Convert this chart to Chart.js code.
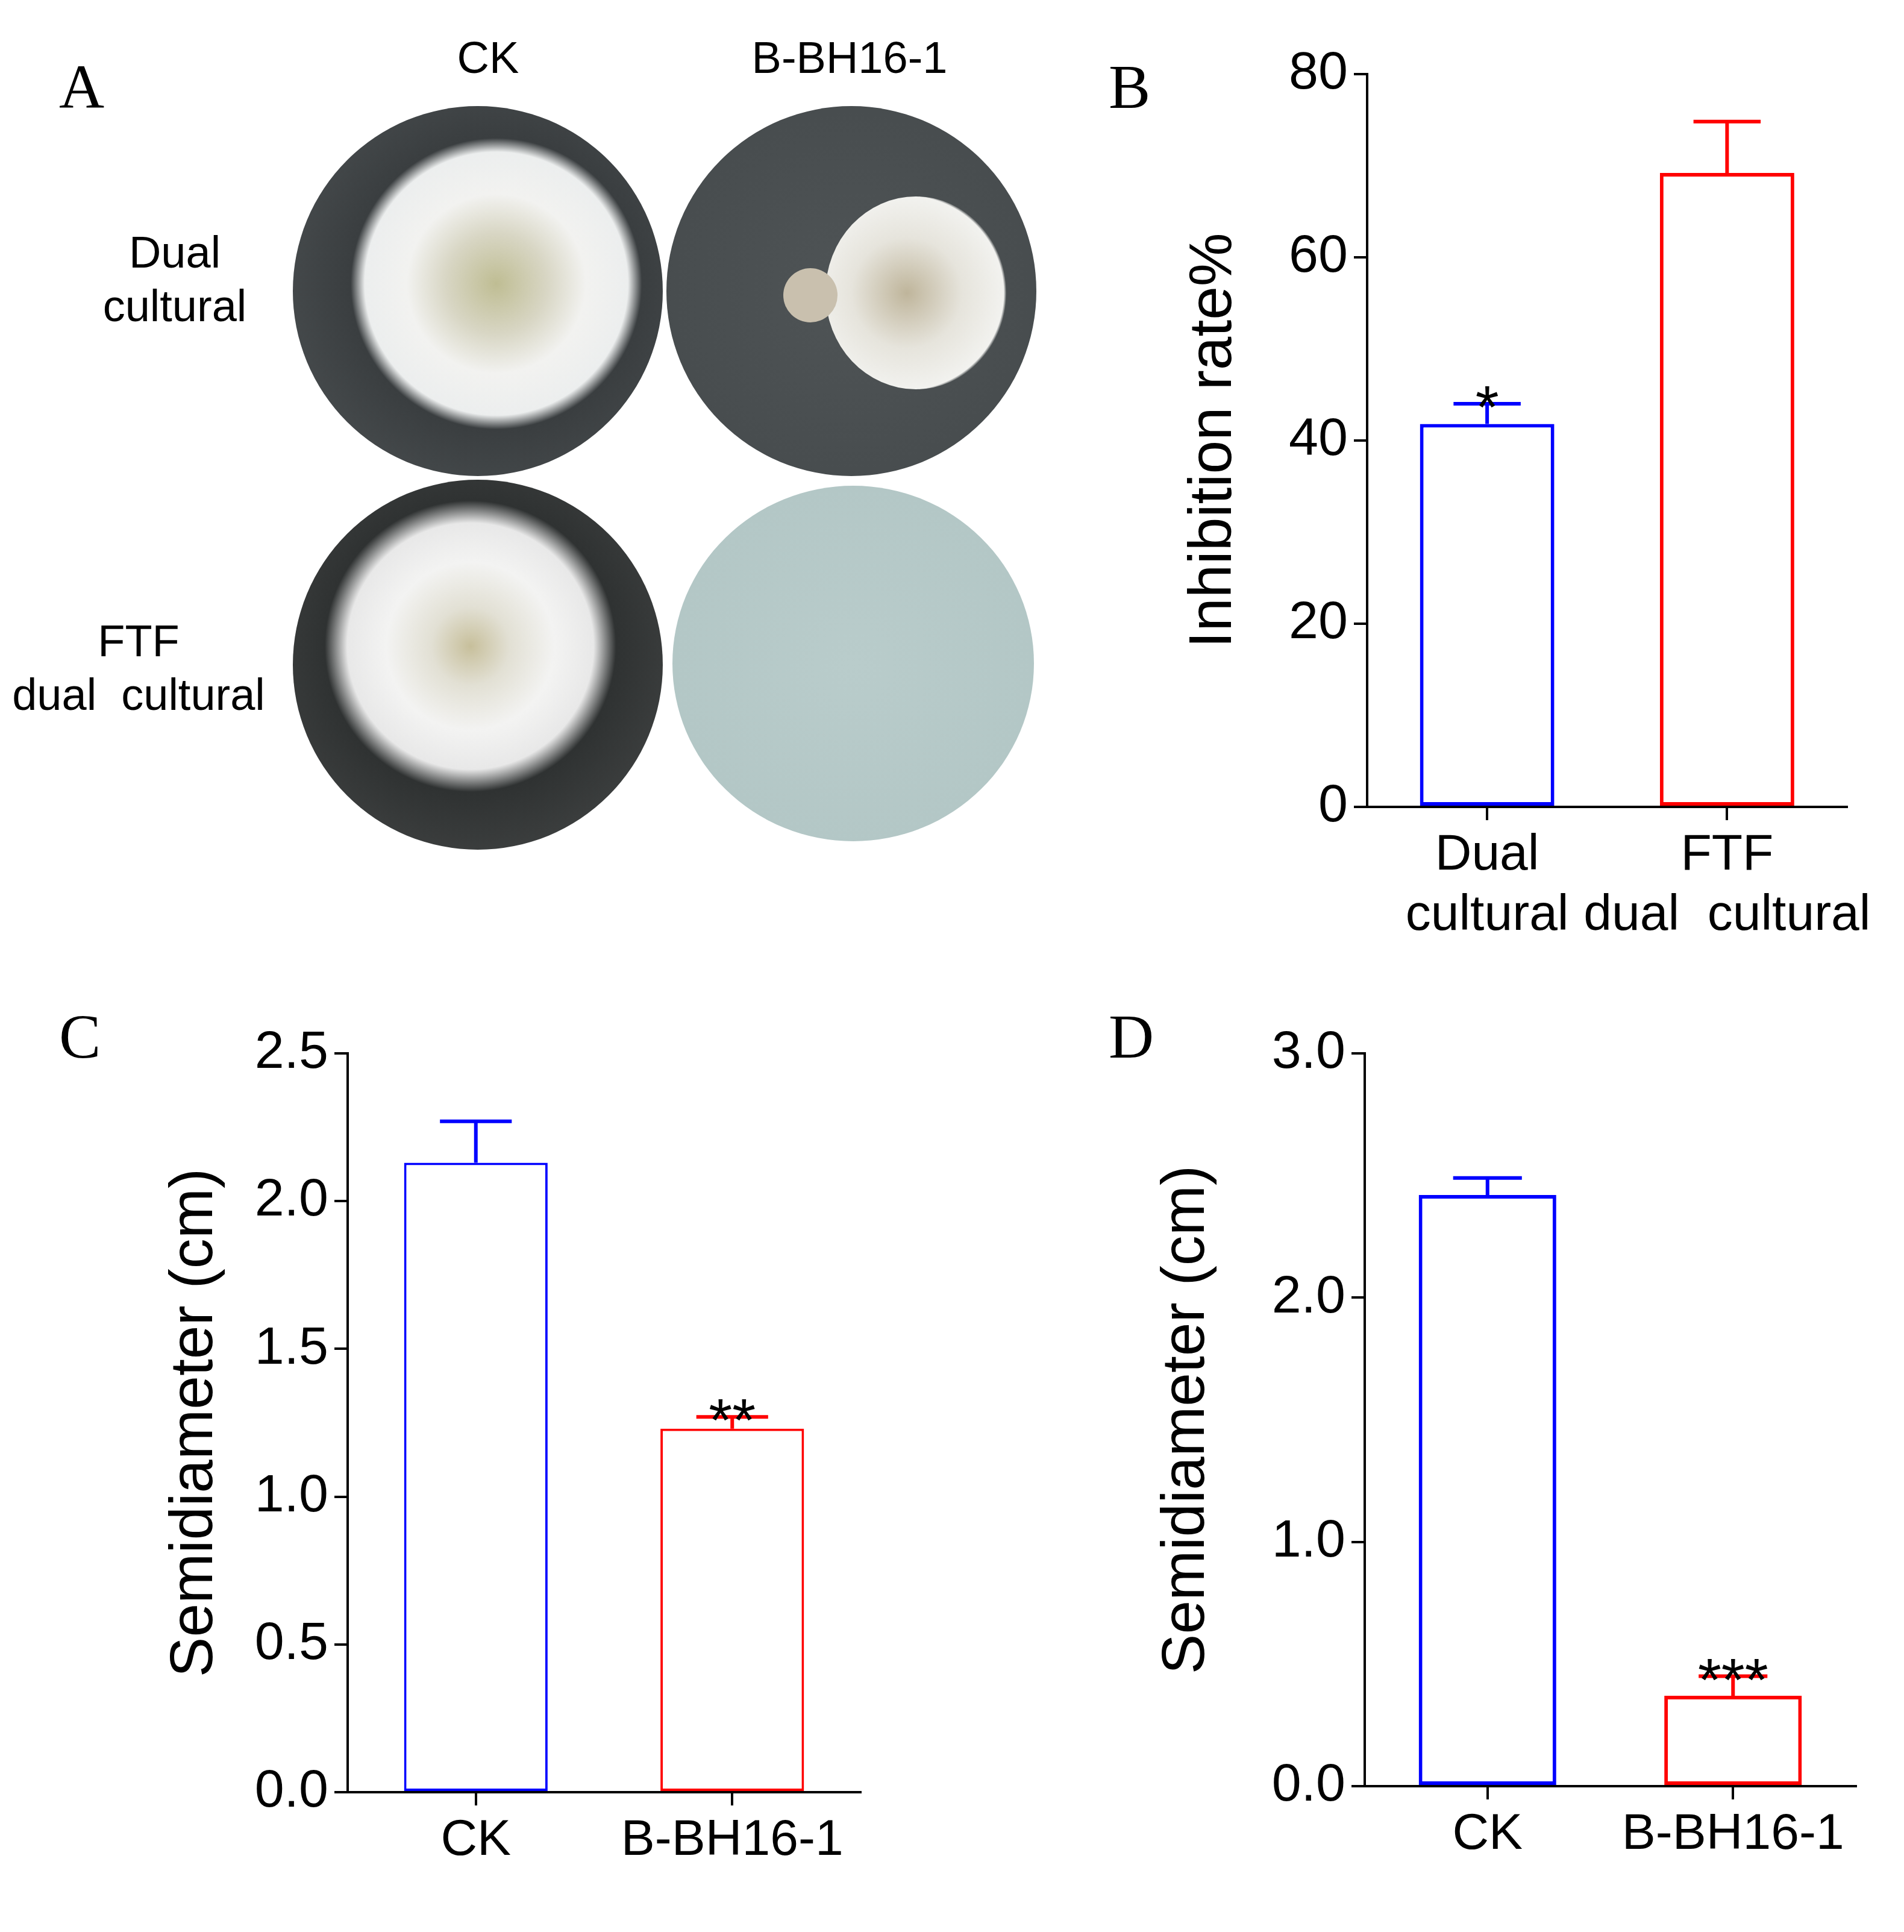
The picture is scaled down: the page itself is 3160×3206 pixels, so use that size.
<!DOCTYPE html>
<html><head><meta charset="utf-8">
<script src="https://cdn.jsdelivr.net/npm/chart.js@4.4.1/dist/chart.umd.min.js"></script>
<style>
body{margin:0;width:3160px;height:3206px;background:#fff;position:relative;font-family:"Liberation Sans",Arial,sans-serif;overflow:hidden}
.c{position:absolute}
.L{position:absolute;font-family:"Liberation Serif","Times New Roman",serif;font-size:104px}
.t{position:absolute;font-size:74px;text-align:center;line-height:1.2}
.dish{position:absolute;border-radius:50%}
</style></head><body>
<div class="L" style="left:98px;top:84px">A</div>
<div class="L" style="left:1840px;top:84px">B</div>
<div class="L" style="left:98px;top:1660px">C</div>
<div class="L" style="left:1840px;top:1660px">D</div>
<div class="t" style="left:700px;top:52px;width:220px">CK</div>
<div class="t" style="left:1180px;top:52px;width:460px">B-BH16-1</div>
<div class="t" style="left:120px;top:375px;width:340px">Dual<br>cultural</div>
<div class="t" style="left:0px;top:1020px;width:460px">FTF<br>dual&nbsp; cultural</div>
<div class="dish" style="left:486px;top:176px;width:614px;height:614px;background:radial-gradient(circle at 55% 48%,#bfbd93 0,#d8d6c4 18%,#f2f2f0 32%,#eceeee 47%,#3a3e40 52%,#505557 100%)"></div>
<div class="dish" style="left:1106px;top:176px;width:614px;height:614px;background:radial-gradient(circle at 50% 50%,#4f5456 0,#464b4d 88%,#2c3032 100%)"></div>
<div class="dish" style="left:1370px;top:326px;width:300px;height:320px;background:radial-gradient(circle at 45% 50%,#bfb59b 0,#e6e4dc 40%,#f2f2ef 70%,rgba(0,0,0,0) 72%)"></div>
<div class="dish" style="left:1300px;top:445px;width:90px;height:90px;background:#c9c0ae"></div>
<div class="dish" style="left:486px;top:796px;width:614px;height:614px;background:radial-gradient(circle at 48% 45%,#c7bf9b 0,#e2e0d4 14%,#f3f3f2 30%,#e8e8e8 44%,#2f3232 52%,#4a4c4c 100%)"></div>
<div class="dish" style="left:1116px;top:806px;width:600px;height:590px;background:radial-gradient(circle at 50% 50%,#b9cccb 0,#b2c6c5 85%,#d4ddcf 100%)"></div>

<div class="c" style="left:1955px;top:60px;width:1165px;height:1560px"><canvas id="cb"></canvas></div>
<div class="c" style="left:264px;top:1650px;width:1236px;height:1530px"><canvas id="cc"></canvas></div>
<div class="c" style="left:1910px;top:1650px;width:1220px;height:1530px"><canvas id="cd"></canvas></div>
<script>
const catsB=[["Dual","cultural"],["FTF","dual  cultural"]];
const valsB=[41.8,69.2], errB=[2.2,5.6], starsB=["*",""];
const ticksB=[0,20,40,60,80];
const catsC=["CK","B-BH16-1"];
const valsC=[2.13,1.23], errC=[0.14,0.04], starsC=["","**"];
const ticksC=[0,0.5,1.0,1.5,2.0,2.5];
const catsD=["CK","B-BH16-1"];
const valsD=[2.42,0.37], errD=[0.07,0.08], starsD=["","***"];
const ticksD=[0,1.0,2.0,3.0];
const colors=["#0000ff","#ff0000"];
const FONT='"Liberation Sans", Arial, sans-serif';

function make(id,cats,vals,errs,stars,ticks,title,dec,yW,xH,padTop,padRight,bw){
  const errPlugin={id:'err',afterDatasetsDraw(ch){
    const ctx=ch.ctx,y=ch.scales.y,meta=ch.getDatasetMeta(0);
    meta.data.forEach((b,i)=>{
      const top=y.getPixelForValue(vals[i]),e=y.getPixelForValue(vals[i]+errs[i]);
      ctx.save();ctx.strokeStyle=colors[i];ctx.lineWidth=6;
      ctx.beginPath();ctx.moveTo(b.x,top);ctx.lineTo(b.x,e);
      ctx.moveTo(b.x-b.width*0.25,e);ctx.lineTo(b.x+b.width*0.25,e);ctx.stroke();
      if(stars[i]){ctx.fillStyle='#000';ctx.font='100px '+FONT;ctx.textAlign='center';ctx.textBaseline='alphabetic';ctx.fillText(stars[i],b.x,e+40);}
      ctx.restore();
    });
  }};
  new Chart(document.getElementById(id),{type:'bar',
    data:{labels:cats,datasets:[{data:vals,backgroundColor:'#fff',borderColor:colors,borderWidth:bw,borderSkipped:false,barPercentage:0.56,categoryPercentage:1}]},
    options:{responsive:true,maintainAspectRatio:false,animation:false,devicePixelRatio:1,
      layout:{padding:{top:padTop,right:padRight}},
      plugins:{legend:{display:false},tooltip:{enabled:false}},
      scales:{
        x:{offset:true,afterFit(s){s.height=xH;},
          grid:{offset:false,drawOnChartArea:false,color:'#000',lineWidth:4,tickLength:22},border:{color:'#000',width:4},
          ticks:{color:'#000',font:{family:FONT,size:84},padding:8,maxRotation:0,minRotation:0,autoSkip:false}},
        y:{min:ticks[0],max:ticks[ticks.length-1],afterFit(s){s.width=yW;},
          afterBuildTicks(s){s.ticks=ticks.map(v=>({value:v}));},
          grid:{drawOnChartArea:false,color:'#000',lineWidth:4,tickLength:22},border:{color:'#000',width:4},
          ticks:{color:'#000',font:{family:FONT,size:88},padding:10,callback:v=>v.toFixed(dec)},
          title:{display:true,text:title,color:'#000',font:{family:FONT,size:100},padding:{top:0,bottom:0}}}
      }},
    plugins:[errPlugin]});
}
make('cb',catsB,valsB,errB,starsB,ticksB,'Inhibition rate%',0,314,281,51,30,6);
make('cc',catsC,valsC,errC,starsC,ticksC,'Semidiameter (cm)',1,313,206,98,72,4);
make('cd',catsD,valsD,errD,starsD,ticksD,'Semidiameter (cm)',1,355,216,98,50,6);
</script>
</body></html>
